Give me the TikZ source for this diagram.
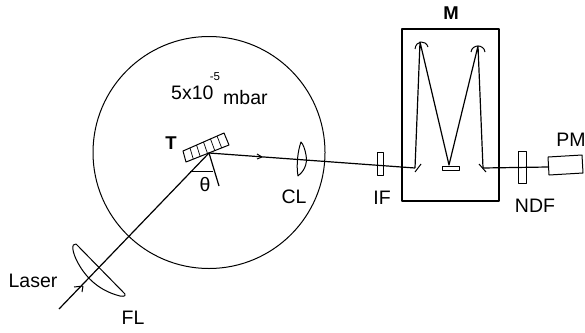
\documentclass[tikz,border=0pt]{standalone}
\usepackage{fontspec}
\setmainfont{Liberation Sans}
\usetikzlibrary{calc}
\tikzset{
 lbl/.style={inner sep=0pt,font=\fontsize{19.5}{22}\selectfont},
 bl/.style={inner sep=0pt,font=\fontsize{18.5}{22}\selectfont\bfseries},
 ln/.style={line width=1.2pt},
 thin1/.style={line width=1pt},
}
\begin{document}
\begin{tikzpicture}[x=1pt,y=-1pt,line join=round]
\useasboundingbox (0,0) rectangle (585,332);
\draw[thin1] (209,152.5) circle (116);
% target
\coordinate (s1) at (183,151);
\coordinate (s2) at (224,133);
\coordinate (s3) at (229,145);
\coordinate (s4) at (186,162);
\draw[thin1] (s1)--(s2)--(s3)--(s4)--cycle;
\foreach \t in {0.17,0.33,0.5,0.67,0.83}
 \draw[line width=.7pt] ($(s1)!\t!(s2)$)--($(s4)!\t!(s3)$);
% beam
\coordinate (las) at (59,309);
\coordinate (hit) at (209,153);
\coordinate (lo) at (415,168);
\draw[ln] (las)--(hit)--(lo);
\draw[thin1] (83,286)--(74,287) (83,286)--(82,292);
\draw[thin1] (262,157)--(257,154) (262,157)--(257,159);
\draw[ln] (hit)--(219,186);
\draw[line width=.5pt] (190,171)--(213,171);
% FL
\draw[thin1] (76,244) .. controls (71,243) and (72,252) .. (78,263) .. controls (84,274) and (96,290) .. (120,296) .. controls (125,297) and (126,295) .. (125,294) -- (78,246) -- cycle;
% CL
\draw[thin1] (301,142) .. controls (298,150) and (296,165) .. (298,176) .. controls (303,172) and (308,165) .. (306,155) .. controls (305,149) and (303,144) .. (301,142) -- cycle;
% IF
\draw[thin1] (377,152) rectangle (383,175);
% M
\draw[line width=1.3pt] (402,29) rectangle (499,201);
\draw[ln] (lo)--(420,42)--(449,165)--(478,46)--(483,168)--(548,167);
\draw[thin1] (415,49) .. controls (416,40) and (426,40) .. (428,47);
\draw[thin1] (471,52) .. controls (472,44) and (484,44) .. (485,52);
\draw[thin1] (415,172)--(421,164);
\draw[thin1] (479,164)--(486,172);
\draw[thin1] (442,166) rectangle (459,170);
% NDF
\draw[thin1] (518,151) rectangle (526,183);
% PM
\draw[thin1] (548,157)--(582,155)--(583,173)--(549,175)--cycle;
% labels
\node[bl] (m) at (451,13) {M};
\node[bl] (t) at (171,143) {T};
\node[lbl] (pm) at (571,140) {PM};
\node[lbl] (ndf) at (535,206) {NDF};
\node[lbl] (if) at (382,198) {IF};
\node[lbl] (cl) at (294,197) {CL};
\node[lbl] (th) at (205,185) {θ};
\node[lbl] (fl) at (133,318) {FL};
\node[lbl] (la) at (33,281) {Laser};
\node[lbl,anchor=west] (p) at (171,93) {5x10};
\node[lbl,font=\fontsize{11.5}{13}\selectfont] (e) at (215,77) {-5};
\node[lbl,anchor=west] (mb) at (223,98) {mbar};
\end{tikzpicture}
\end{document}
